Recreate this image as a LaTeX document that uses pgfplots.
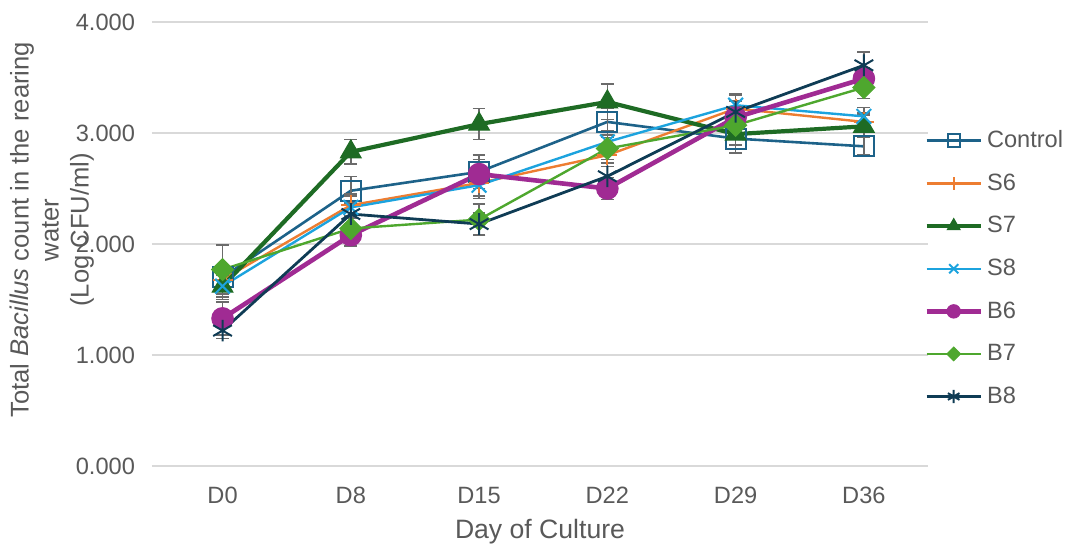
\documentclass[border=0pt]{standalone}
\usepackage{pgfplots}
\pgfplotsset{compat=1.18}
\usepackage{fontspec}
\setmainfont{Liberation Sans}
\definecolor{cCtrl}{HTML}{1D6289}
\definecolor{cS6}{HTML}{ED7D31}
\definecolor{cS7}{HTML}{1E6B24}
\definecolor{cS8}{HTML}{1CA3DE}
\definecolor{cB6}{HTML}{A02B93}
\definecolor{cB7}{HTML}{4EA72E}
\definecolor{cB8}{HTML}{0F3C55}
\definecolor{txt}{HTML}{595959}
\definecolor{grd}{HTML}{D9D9D9}
\definecolor{ebar}{HTML}{6B6B6B}
\begin{document}
\begin{tikzpicture}
\begin{axis}[
  scale only axis, width=388pt, height=222pt,
  xmin=-0.55, xmax=5.5, ymin=0, ymax=4,
  axis line style={draw=none},
  ytick={0,1,2,3,4},
  xtick={0,1,2,3,4,5},
  xticklabels={D0,D8,D15,D22,D29,D36},
  ymajorgrids, grid style={grd, line width=0.9pt},
  major tick length=0pt,
  tick label style={font=\fontsize{11.8}{13}\selectfont, text=txt},
  yticklabel={\pgfmathprintnumber[fixed,fixed zerofill,precision=3]{\tick}},
  /pgf/number format/assume math mode=true,
  xticklabel style={yshift=-7pt},
  yticklabel style={xshift=-5pt},
  xlabel={Day of Culture},
  xlabel style={font=\fontsize{13.3}{15}\selectfont, text=txt, at={(axis description cs:0.5,0)}, anchor=center, yshift=-33pt},
  ylabel={Total \textit{Bacillus} count in the rearing\\water\\(Log CFU/ml)},
  ylabel style={font=\fontsize{12.8}{15}\selectfont, text=txt, align=center, at={(axis description cs:-0.129,0.532)}, anchor=center},
  clip=false,
  legend style={draw=none, fill=none, at={(axis description cs:1.0,0.766)}, anchor=north west,
    font=\fontsize{11.8}{13}\selectfont, text=txt, inner sep=0pt, row sep=7.6pt, xshift=-2pt,
    /tikz/every even column/.append style={column sep=0pt}},
  legend cell align=left,
  legend image code/.code={\draw[mark repeat=2,mark phase=2,/tikz/every mark/.append style={scale=0.62}] plot coordinates {(0pt,0pt) (13.5pt,0pt) (27pt,0pt)};},
  error bars/y dir=both, error bars/y explicit,
  error bars/error bar style={ebar, line width=0.8pt},
  error bars/error mark options={ebar, line width=0.8pt, rotate=90, mark size=3.2pt},
]
\coordinate (O) at (rel axis cs:0,0);
\addplot[cCtrl, line width=1.3pt, mark=square, mark size=5pt, mark options={fill=white, line width=1pt, solid}]
 coordinates {(0,1.70)+-(0,0.10) (1,2.48)+-(0,0.13) (2,2.65)+-(0,0.15) (3,3.10)+-(0,0.12) (4,2.95)+-(0,0.13) (5,2.88)+-(0,0.08)};
\addlegendentry{Control}
\addplot[cS6, line width=1.2pt, mark=+, mark size=5pt, mark options={line width=1pt}]
 coordinates {(0,1.68)+-(0,0.10) (1,2.35)+-(0,0.10) (2,2.55)+-(0,0.12) (3,2.80)+-(0,0.10) (4,3.22)+-(0,0.12) (5,3.10)+-(0,0.08)};
\addlegendentry{S6}
\addplot[cS7, line width=2.1pt, mark=triangle*, mark size=6pt, mark options={line width=0.5pt}]
 coordinates {(0,1.62)+-(0,0.12) (1,2.83)+-(0,0.11) (2,3.08)+-(0,0.14) (3,3.28)+-(0,0.16) (4,2.99)+-(0,0.10) (5,3.06)+-(0,0.10)};
\addlegendentry{S7}
\addplot[cS8, line width=1.2pt, mark=x, mark size=5.2pt, mark options={line width=1pt}]
 coordinates {(0,1.62)+-(0,0.10) (1,2.33)+-(0,0.10) (2,2.53)+-(0,0.12) (3,2.92)+-(0,0.10) (4,3.25)+-(0,0.10) (5,3.15)+-(0,0.08)};
\addlegendentry{S8}
\addplot[cB6, line width=2.3pt, mark=*, mark size=5.4pt, mark options={line width=0.5pt}]
 coordinates {(0,1.33)+-(0,0.15) (1,2.08)+-(0,0.10) (2,2.63)+-(0,0.13) (3,2.50)+-(0,0.10) (4,3.14)+-(0,0.10) (5,3.49)+-(0,0.10)};
\addlegendentry{B6}
\addplot[cB7, line width=1.2pt, mark=square*, mark size=3.9pt, mark options={line width=0.5pt, rotate=45}]
 coordinates {(0,1.77)+-(0,0.22) (1,2.14)+-(0,0.10) (2,2.22)+-(0,0.14) (3,2.86)+-(0,0.10) (4,3.07)+-(0,0.10) (5,3.41)+-(0,0.10)};
\addlegendentry{B7}
\addplot[cB8, line width=1.4pt, mark=asterisk, mark size=5.4pt, mark options={line width=1pt}]
 coordinates {(0,1.22)+-(0,0.07) (1,2.27)+-(0,0.10) (2,2.18)+-(0,0.10) (3,2.61)+-(0,0.12) (4,3.19)+-(0,0.10) (5,3.61)+-(0,0.12)};
\addlegendentry{B8}
\end{axis}
\pgfresetboundingbox
\path[use as bounding box] ([shift={(-76pt,-41pt)}]O) rectangle ++(534pt,274pt);
\end{tikzpicture}
\end{document}
